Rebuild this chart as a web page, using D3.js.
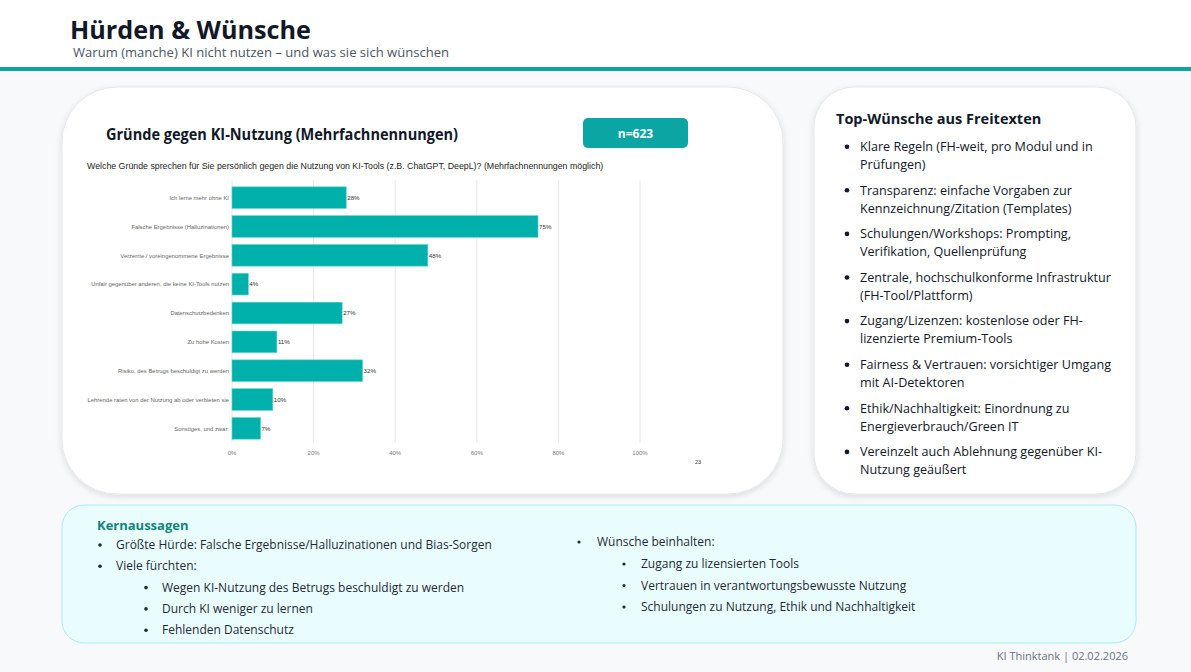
<!DOCTYPE html>
<html><head><meta charset="utf-8">
<script src="https://cdn.jsdelivr.net/npm/d3@7"></script>
<style>
html,body{margin:0;padding:0;background:#f8f9fb;}
svg{display:block;}
</style></head>
<body>
<svg id="c" width="1191" height="672"></svg>
<script>
const categories = [
  "Ich lerne mehr ohne KI",
  "Falsche Ergebnisse (Halluzinationen)",
  "Verzerrte / voreingenommene Ergebnisse",
  "Unfair gegenüber anderen, die keine KI-Tools nutzen",
  "Datenschutzbedenken",
  "Zu hohe Kosten",
  "Risiko, des Betrugs beschuldigt zu werden",
  "Lehrende raten von der Nutzung ab oder verbieten sie",
  "Sonstiges, und zwar:"
];
const values = [28, 75, 48, 4, 27, 11, 32, 10, 7];
const xTicks = [0, 20, 40, 60, 80, 100];
const wishes = [
  ["Klare Regeln (FH-weit, pro Modul und in", "Prüfungen)"],
  ["Transparenz: einfache Vorgaben zur", "Kennzeichnung/Zitation (Templates)"],
  ["Schulungen/Workshops: Prompting,", "Verifikation, Quellenprüfung"],
  ["Zentrale, hochschulkonforme Infrastruktur", "(FH-Tool/Plattform)"],
  ["Zugang/Lizenzen: kostenlose oder FH-", "lizenzierte Premium-Tools"],
  ["Fairness & Vertrauen: vorsichtiger Umgang", "mit AI-Detektoren"],
  ["Ethik/Nachhaltigkeit: Einordnung zu", "Energieverbrauch/Green IT"],
  ["Vereinzelt auch Ablehnung gegenüber KI-", "Nutzung geäußert"]
];
const keyLeft = [
  {t:"Größte Hürde: Falsche Ergebnisse/Halluzinationen und Bias-Sorgen", l:0},
  {t:"Viele fürchten:", l:0},
  {t:"Wegen KI-Nutzung des Betrugs beschuldigt zu werden", l:1},
  {t:"Durch KI weniger zu lernen", l:1},
  {t:"Fehlenden Datenschutz", l:1}
];
const keyRight = [
  {t:"Wünsche beinhalten:", l:0},
  {t:"Zugang zu lizensierten Tools", l:1},
  {t:"Vertrauen in verantwortungsbewusste Nutzung", l:1},
  {t:"Schulungen zu Nutzung, Ethik und Nachhaltigkeit", l:1}
];

const svg = d3.select("#c");
const F = "'Open Sans', 'Noto Sans', sans-serif";
const defs = svg.append("defs");
const sh = defs.append("filter").attr("id","sh").attr("x","-10%").attr("y","-10%").attr("width","120%").attr("height","125%");
sh.append("feDropShadow").attr("dx",0).attr("dy",2).attr("stdDeviation",3).attr("flood-color","#000").attr("flood-opacity",0.12);

// page bg
svg.append("rect").attr("width",1191).attr("height",672).attr("fill","#f8f9fb");
// header
svg.append("rect").attr("width",1191).attr("height",67).attr("fill","#ffffff");
svg.append("rect").attr("y",67).attr("width",1191).attr("height",4).attr("fill","#0ea39b");
svg.append("text").attr("x",70).attr("y",38.5).attr("font-family",F).attr("font-weight",700)
  .attr("font-size",24.5).attr("fill","#111827").attr("textLength",241).attr("lengthAdjust","spacingAndGlyphs")
  .text("Hürden & Wünsche");
svg.append("text").attr("x",73).attr("y",56.5).attr("font-family",F)
  .attr("font-size",12.6).attr("fill","#4b5563").attr("textLength",376).attr("lengthAdjust","spacingAndGlyphs")
  .text("Warum (manche) KI nicht nutzen – und was sie sich wünschen");

// chart card
svg.append("rect").attr("x",62).attr("y",87).attr("width",721).attr("height",407).attr("rx",55)
  .attr("fill","#fff").attr("stroke","#e5e7eb").attr("filter","url(#sh)");
// right card
svg.append("rect").attr("x",814).attr("y",87).attr("width",322).attr("height",407).attr("rx",40)
  .attr("fill","#fff").attr("stroke","#e5e7eb").attr("filter","url(#sh)");

// chart title
svg.append("text").attr("x",106).attr("y",140).attr("font-family",F).attr("font-weight",700)
  .attr("font-size",16).attr("fill","#111827").attr("textLength",352).attr("lengthAdjust","spacingAndGlyphs")
  .text("Gründe gegen KI-Nutzung (Mehrfachnennungen)");
svg.append("rect").attr("x",583).attr("y",118).attr("width",105).attr("height",30).attr("rx",5).attr("fill","#0ba5a3");
svg.append("text").attr("x",635.5).attr("y",138).attr("text-anchor","middle").attr("font-family",F)
  .attr("font-weight",700).attr("font-size",12).attr("fill","#fff").text("n=623");

const AF = "'Liberation Sans', Arial, sans-serif";
svg.append("text").attr("x",87).attr("y",169).attr("font-family",AF).attr("font-size",8.8)
  .attr("fill","#222").text("Welche Gründe sprechen für Sie persönlich gegen die Nutzung von KI-Tools (z.B. ChatGPT, DeepL)? (Mehrfachnennungen möglich)");

const x = d3.scaleLinear().domain([0,100]).range([232,640]);
const y = d3.scaleBand().domain(categories).range([182.5,443.5]).paddingInner(0.25).paddingOuter(0.15);

const g = svg.append("g");
g.selectAll("line.grid").data(xTicks).join("line").attr("class","grid")
  .attr("x1",d=>x(d)).attr("x2",d=>x(d)).attr("y1",180).attr("y2",443)
  .attr("stroke","#e8e8e8").attr("stroke-width",1);
g.selectAll("rect.bar").data(values).join("rect").attr("class","bar")
  .attr("x",x(0)).attr("y",(d,i)=>y(categories[i])).attr("width",d=>x(d)-x(0)).attr("height",y.bandwidth())
  .attr("fill","#00b0aa").attr("stroke","#5fd3cd").attr("stroke-width",0.6);
g.selectAll("text.cat").data(categories).join("text").attr("class","cat")
  .attr("x",229).attr("y",d=>y(d)+y.bandwidth()/2+2.2).attr("text-anchor","end")
  .attr("font-family",AF).attr("font-size",5.9).attr("fill","#666").text(d=>d);
g.selectAll("text.val").data(values).join("text").attr("class","val")
  .attr("x",d=>x(d)+1).attr("y",(d,i)=>y(categories[i])+y.bandwidth()/2+2.2)
  .attr("font-family",AF).attr("font-size",6.2).attr("fill","#333").text(d=>d+"%");
g.selectAll("text.tick").data(xTicks).join("text").attr("class","tick")
  .attr("x",d=>x(d)).attr("y",455).attr("text-anchor","middle")
  .attr("font-family",AF).attr("font-size",6).attr("fill","#777").text(d=>d+"%");
svg.append("text").attr("x",698).attr("y",464).attr("text-anchor","middle").attr("font-family",AF)
  .attr("font-size",5.5).attr("fill","#444").text("23");

// right card content
svg.append("text").attr("x",836).attr("y",124).attr("font-family",F).attr("font-weight",700)
  .attr("font-size",14.5).attr("fill","#111827").text("Top-Wünsche aus Freitexten");
const wg = svg.append("g").attr("font-family",F).attr("font-size",12.6).attr("fill","#111827");
wishes.forEach((w,i)=>{
  const by = 151 + i*43.6;
  wg.append("circle").attr("cx",847).attr("cy",by-4.3).attr("r",2.3).attr("fill","#111827");
  w.forEach((line,j)=>{
    wg.append("text").attr("x",860).attr("y",by+j*18).text(line);
  });
});

// key box
svg.append("rect").attr("x",62).attr("y",505).attr("width",1074).attr("height",138).attr("rx",22)
  .attr("fill","#eafdfe").attr("stroke","#a8ecf4").attr("stroke-width",1);
svg.append("text").attr("x",97).attr("y",530).attr("font-family",F).attr("font-weight",700)
  .attr("font-size",13).attr("fill","#0f857b").text("Kernaussagen");
const kg = svg.append("g").attr("font-family",F).attr("font-size",12).attr("fill","#1f2937");
keyLeft.forEach((k,i)=>{
  const by = 549 + i*21.3;
  const bx = k.l ? 146 : 100;
  kg.append("circle").attr("cx",bx).attr("cy",by-4).attr("r",1.8).attr("fill","#1f2937");
  kg.append("text").attr("x",bx+16).attr("y",by).text(k.t);
});
keyRight.forEach((k,i)=>{
  const by = i===0 ? 546 : 568 + (i-1)*21.5;
  const bx = k.l ? 624 : 579;
  kg.append("circle").attr("cx",bx).attr("cy",by-4).attr("r",1.6).attr("fill","#1f2937");
  kg.append("text").attr("x",bx+(k.l?17:18)).attr("y",by).attr("font-size",12).text(k.t);
});

svg.append("text").attr("x",1128).attr("y",660).attr("text-anchor","end").attr("font-family",F)
  .attr("font-size",11).attr("fill","#6b7280").text("KI Thinktank | 02.02.2026");
</script>
</body></html>
